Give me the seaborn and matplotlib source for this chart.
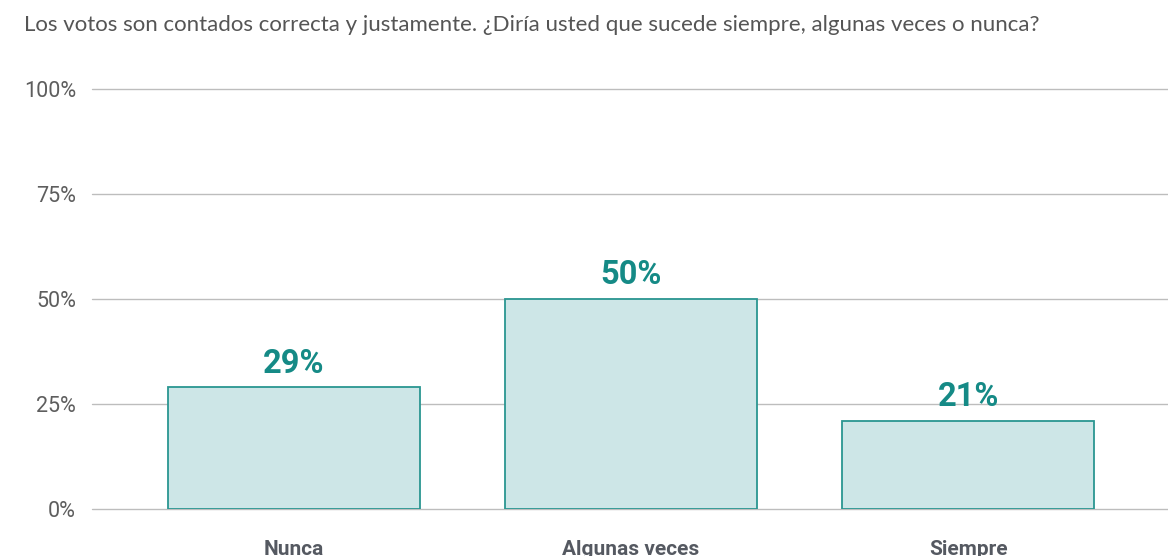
import matplotlib
matplotlib.use("Agg")
import matplotlib.pyplot as plt
import seaborn as sns
import pandas as pd

categories = ["Nunca", "Algunas veces", "Siempre"]
values = [29, 50, 21]
value_labels = ["29%", "50%", "21%"]
yticks = [0, 25, 50, 75, 100]
ytick_labels = ["0%", "25%", "50%", "75%", "100%"]
title = "Los votos son contados correcta y justamente. ¿Diría usted que sucede siempre, algunas veces o nunca?"

sns.set_theme(style="white")
plt.rcParams['font.family'] = ['Roboto', 'DejaVu Sans']

df = pd.DataFrame({"cat": categories, "val": values})

fig = plt.figure(figsize=(11.68, 5.56), dpi=100)
ax = fig.add_axes([92/1168, 47/556, 1 - 92/1168, 420/556])

sns.barplot(data=df, x="cat", y="val", ax=ax, color="#cde6e7", width=0.748,
            edgecolor="#2a9691", linewidth=1.3, saturation=1, zorder=3)

ax.set_ylim(0, 100)
ax.set_xlim(-0.599, 2.593)
ax.set_yticks(yticks)
ax.set_yticklabels(ytick_labels, fontsize=15.5, color="#5e5e5e")
ax.yaxis.grid(True, color="#bdbdbd", linewidth=1, zorder=0)
for gl in ax.get_ygridlines():
    gl.set_clip_on(False)
ax.set_axisbelow(True)
for s in ax.spines.values():
    s.set_visible(False)
ax.tick_params(axis="y", length=0, pad=11.5)
ax.tick_params(axis="x", length=0, pad=22)
for lbl in ax.get_xticklabels():
    lbl.set_fontsize(15)
    lbl.set_fontweight("bold")
    lbl.set_color("#555961")
ax.set_xlabel("")
ax.set_ylabel("")

for i, (v, t) in enumerate(zip(values, value_labels)):
    ax.text(i, v + 1.8, t, ha="center", va="bottom", fontsize=23.5,
            fontweight="bold", color="#158a86", zorder=4)

fig.text(24/1168, 1 - 25/556, title, ha="left", va="center", fontsize=16,
         color="#555555", family=["Lato", "DejaVu Sans"])

fig.savefig("out.png", dpi=100)
